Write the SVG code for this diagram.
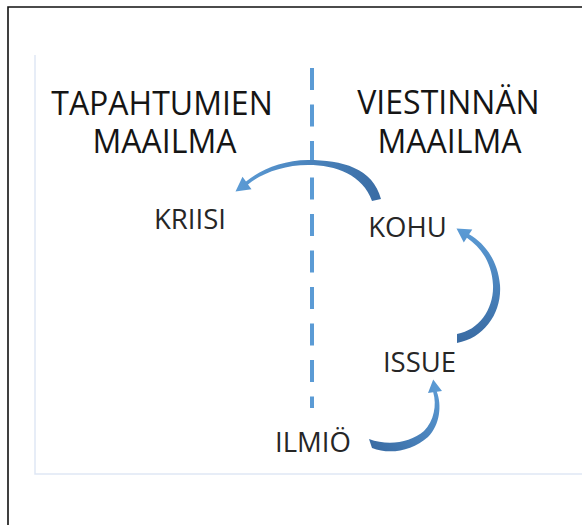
<svg xmlns="http://www.w3.org/2000/svg" width="582" height="525" viewBox="0 0 582 525">
<style>
.h{font-family:"Open Sans","Liberation Sans",sans-serif;font-size:32px;fill:#151515;text-anchor:middle}
.l{font-family:"Open Sans","Liberation Sans",sans-serif;font-size:27.5px;fill:#262626;text-anchor:middle}
</style>
<defs>
<linearGradient id="g1" gradientUnits="userSpaceOnUse" x1="380" y1="200" x2="236" y2="190"><stop offset="0" stop-color="#3a6ca4"/><stop offset="1" stop-color="#5b9bd5"/></linearGradient>
<linearGradient id="g2" gradientUnits="userSpaceOnUse" x1="457" y1="340" x2="457" y2="228"><stop offset="0" stop-color="#3a6ca4"/><stop offset="1" stop-color="#5b9bd5"/></linearGradient>
<linearGradient id="g3" gradientUnits="userSpaceOnUse" x1="370" y1="445" x2="434" y2="380"><stop offset="0" stop-color="#3a6ca4"/><stop offset="1" stop-color="#5b9bd5"/></linearGradient>
</defs>
<rect width="582" height="525" fill="#fff"/>
<path d="M8 525V7H582" fill="none" stroke="#111" stroke-width="1.6"/>
<path d="M35 55V474H582" fill="none" stroke="#dfe7f5" stroke-width="1.5"/>
<line x1="312" y1="68" x2="312" y2="408" stroke="#5b9bd5" stroke-width="4" stroke-dasharray="22 14.5"/>
<g id="headings">
<text class="h" x="162" y="115">TAPAHTUMIEN</text>
<text class="h" x="164.5" y="153">MAAILMA</text>
<text class="h" x="448.5" y="114">VIESTINNÄN</text>
<text class="h" x="449.5" y="153">MAAILMA</text>
</g>
<g id="kriisi"><text class="l" x="190" y="229">KRIISI</text></g>
<g id="kohu"><text class="l" x="407.5" y="237">KOHU</text></g>
<g id="issue"><text class="l" x="419.5" y="372">ISSUE</text></g>
<g id="ilmio"><text class="l" x="313" y="452">ILMIÖ</text></g>
<g id="connectors">
<path fill="url(#g1)" d="M381 199C373 168 342 160 308 160C283 160 260 170 246 181.5L242.5 176.8L235.5 191.5L251.5 189.3L248 184.5C262 173 284 165 308 165C336 165 363 175 372 201Z"/>
<path fill="url(#g2)" d="M457 343C485 338 502 312 500 285C498 262 486 244 469.1 234.3L472.3 229.5L456.5 228.5L463.8 242.5L466.9 237.7C482 248 492 264 493 285C494 308 480 330 457 334Z"/>
<path fill="url(#g3)" d="M372 448C390 455 412 451 428 437C440 425 442 405 436.8 391.7L442 391L433.2 379.5L428 393L433.2 392.3C437 405 434 421 424 431C410 443 388 446 369 439Z"/>
</g>
</svg>
